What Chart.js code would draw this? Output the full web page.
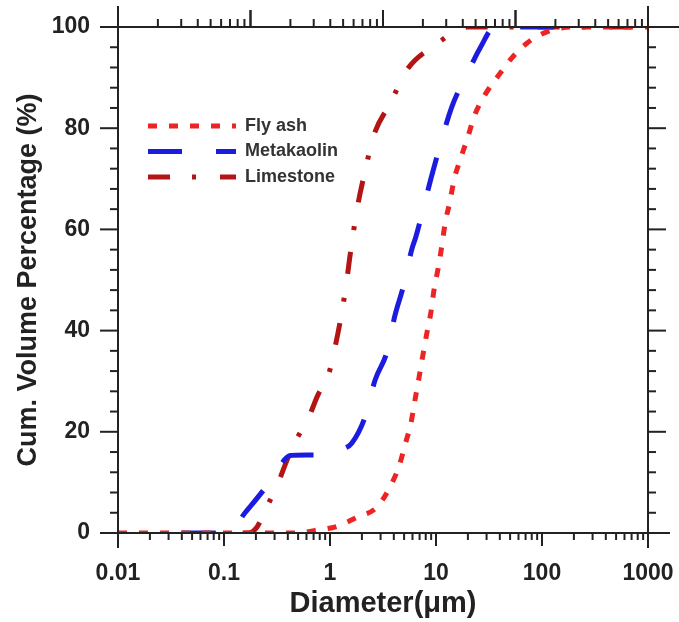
<!DOCTYPE html>
<html lang="en">
<head>
<meta charset="UTF-8">
<title>Cumulative particle size distribution</title>
<script src="https://cdn.jsdelivr.net/npm/chart.js"></script>
<style>
  html, body { margin: 0; padding: 0; background: #fff; }
</style>
</head>
<body>
<canvas id="psd" width="679" height="622"></canvas>
<script>
// values: diameter (um) and cumulative volume (%)
const flyAshD = [0.01, 0.1, 0.5, 0.72, 1.16, 1.84, 2.77, 3.68, 4.48, 5.1, 5.8, 6.3, 6.9, 7.5, 8.2, 9.0, 9.6, 10.5, 11.4, 12.2, 13.5, 14.8, 17, 20, 23, 29, 38.5, 52, 72, 110, 200, 1000];
const flyAshV = [0, 0, 0, 0.5, 1.3, 3.2, 5.1, 9.1, 13.2, 17.4, 21.7, 26, 30.6, 35, 39.5, 43.9, 48.2, 52.4, 57, 61.3, 65.4, 69.8, 73.9, 78.3, 82.4, 86.6, 90.3, 93.9, 96.8, 99, 100, 100];

const metakaolinD = [0.04, 0.11, 0.158, 0.244, 0.33, 0.42, 0.6, 0.8, 1.0, 1.3, 1.61, 2.14, 2.66, 3.45, 4.1, 4.9, 5.9, 6.45, 9.3, 14.1, 20, 26, 36, 200];
const metakaolinV = [0, 0, 4, 8.9, 13, 15.3, 15.4, 15.4, 15.6, 16.5, 17.8, 22.9, 30.2, 35.8, 43, 48.6, 56, 58.5, 71.3, 84.2, 91, 95.8, 100, 100];

const limestoneD = [0.15, 0.17, 0.205, 0.244, 0.316, 0.393, 0.468, 0.62, 0.77, 0.96, 1.07, 1.24, 1.42, 1.55, 1.8, 2.14, 2.6, 3.76, 5.3, 9.8, 20, 1000];
const limestoneV = [0, 0, 1.2, 4.5, 9.3, 14.4, 18, 22.5, 27.3, 31, 35, 41.5, 49, 55, 64, 71.5, 78.7, 85.2, 91.5, 96.4, 100, 100];

const seriesNames = ['Fly ash', 'Metakaolin', 'Limestone'];
const xTickValues = [0.01, 0.1, 1, 10, 100, 1000];
const xTickLabels = ['0.01', '0.1', '1', '10', '100', '1000'];

const toPoints = (d, v) => d.map((x, i) => ({ x: x, y: v[i] }));
const FONT = 'Liberation Sans';

// pin the plot box: each axis gets a fixed thickness and no label overhang
const fixSize = (prop, size) => (s) => {
  s[prop] = size;
  s.paddingLeft = s.paddingRight = s.paddingTop = s.paddingBottom = 0;
};

// frame lines and tick marks (major longer than minor), drawn from the scales
const axisFrame = {
  id: 'axisFrame',
  afterDraw(chart) {
    const { ctx, chartArea: a, scales } = chart;
    ctx.save();
    ctx.strokeStyle = '#222';
    ctx.lineWidth = 2;
    const line = (x1, y1, x2, y2) => {
      ctx.beginPath(); ctx.moveTo(x1, y1); ctx.lineTo(x2, y2); ctx.stroke();
    };
    line(100, a.top, 679, a.top);
    line(100, a.bottom, 670, a.bottom);
    line(a.left, 6, a.left, 548);
    line(a.right, 6, a.right, 548);

    // log ticks: bottom axis points down, top axis points up
    [['x', a.bottom, 1, 7, 13], ['x2', a.top, -1, 8, 17]].forEach(([id, y0, dir, minor, major]) => {
      const s = scales[id];
      for (let e = Math.round(Math.log10(s.min)); e < Math.round(Math.log10(s.max)); e++) {
        for (let m = 1; m <= 10; m++) {
          const px = s.getPixelForValue(m * Math.pow(10, e));
          line(px, y0, px, y0 + dir * (m === 1 || m === 10 ? major : minor));
        }
      }
    });

    // linear ticks every 4 %, left points left, right points right
    const y = scales.y;
    for (let v = 0; v <= 100; v += 4) {
      const py = y.getPixelForValue(v);
      const len = v % 20 === 0 ? 18 : 8;
      line(a.left - len, py, a.left, py);
      line(a.right, py, a.right + len, py);
    }
    ctx.restore();
  }
};

// legend sitting inside the plot, one row per series
const insideLegend = {
  id: 'insideLegend',
  afterDatasetsDraw(chart, args, opts) {
    const { ctx } = chart;
    ctx.save();
    chart.data.datasets.forEach((ds, i) => {
      const y = opts.y + i * opts.rowGap;
      ctx.strokeStyle = ds.borderColor;
      ctx.lineWidth = ds.borderWidth;
      ctx.setLineDash(ds.borderDash || []);
      ctx.beginPath();
      ctx.moveTo(opts.x, y);
      ctx.lineTo(opts.x + opts.lineLen, y);
      ctx.stroke();
      ctx.setLineDash([]);
      ctx.fillStyle = '#333';
      ctx.font = 'bold 18px "' + FONT + '"';
      ctx.textBaseline = 'middle';
      ctx.fillText(ds.label, opts.x + opts.lineLen + 9, y);
    });
    ctx.restore();
  }
};

new Chart(document.getElementById('psd'), {
  type: 'line',
  data: {
    datasets: [
      {
        label: seriesNames[0],
        data: toPoints(flyAshD, flyAshV),
        borderColor: '#ec2424',
        borderWidth: 5,
        borderDash: [9, 12]
      },
      {
        label: seriesNames[1],
        data: toPoints(metakaolinD, metakaolinV),
        borderColor: '#1c1ce0',
        borderWidth: 5,
        borderDash: [34, 34]
      },
      {
        label: seriesNames[2],
        data: toPoints(limestoneD, limestoneV),
        borderColor: '#b31414',
        borderWidth: 5,
        borderDash: [22, 22, 4, 24]
      }
    ]
  },
  options: {
    responsive: false,
    animation: false,
    layout: { padding: 0 },
    elements: {
      point: { radius: 0 },
      line: { cubicInterpolationMode: 'monotone' }
    },
    plugins: {
      legend: { display: false },
      tooltip: { enabled: false },
      insideLegend: { x: 148, y: 126, rowGap: 25.5, lineLen: 88 }
    },
    scales: {
      x: {
        type: 'logarithmic',
        position: 'bottom',
        min: 0.01,
        max: 1000,
        afterBuildTicks: (s) => { s.ticks = xTickValues.map(v => ({ value: v })); },
        afterFit: fixSize('height', 89),
        grid: { display: false, drawTicks: false },
        border: { display: false },
        ticks: {
          autoSkip: false,
          maxRotation: 0,
          padding: 27,
          color: '#222',
          font: { family: FONT, weight: 'bold', size: 23 },
          callback: (v) => {
            const i = xTickValues.indexOf(v);
            return i >= 0 ? xTickLabels[i] : '';
          }
        },
        title: {
          display: true,
          text: 'Diameter(\u03bcm)',
          color: '#222',
          font: { family: FONT, weight: 'bold', size: 29 },
          padding: { top: 0, bottom: 1 }
        }
      },
      x2: {
        type: 'logarithmic',
        position: 'top',
        min: 0.01,
        max: 100,
        afterFit: fixSize('height', 27),
        grid: { display: false, drawTicks: false },
        border: { display: false },
        ticks: { display: false }
      },
      y: {
        type: 'linear',
        position: 'left',
        min: 0,
        max: 100,
        afterFit: fixSize('width', 118),
        grid: { display: false, drawTicks: false },
        border: { display: false },
        ticks: {
          stepSize: 20,
          padding: 28,
          color: '#222',
          font: { family: FONT, weight: 'bold', size: 23 }
        },
        title: {
          display: true,
          text: 'Cum. Volume Percentage (%)',
          color: '#222',
          font: { family: FONT, weight: 'bold', size: 27 },
          padding: { top: 12, bottom: 0 }
        }
      },
      y2: {
        type: 'linear',
        position: 'right',
        min: 0,
        max: 100,
        afterFit: fixSize('width', 31),
        grid: { display: false, drawTicks: false },
        border: { display: false },
        ticks: { display: false }
      }
    }
  },
  plugins: [axisFrame, insideLegend]
});
</script>
</body>
</html>
